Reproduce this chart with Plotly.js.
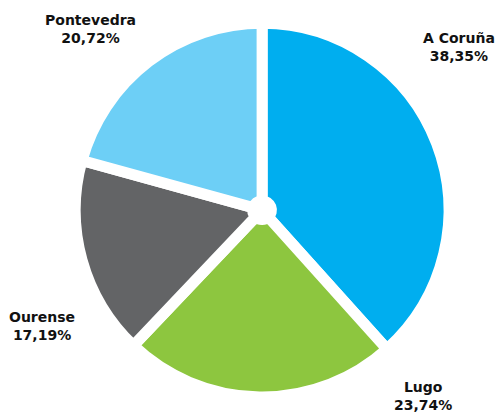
<!DOCTYPE html>
<html><head><meta charset="utf-8">
<script src="https://cdn.plot.ly/plotly-3.0.1.min.js"></script>
<style>html,body{margin:0;padding:0;background:#fff}#chart{width:495px;height:412px}</style>
</head><body><div id="chart"></div>
<script>
const provinces = ["A Coruña", "Lugo", "Ourense", "Pontevedra"];
const shares = [38.35, 23.74, 17.19, 20.72];
const colors = ["#00AEEF", "#8DC63F", "#636466", "#6DCFF6"];
const labelPos = [[459, 47], [423, 396], [42, 326], [90, 29]];

const fmt = v => v.toFixed(2).replace('.', ',') + '%';

const trace = {
  type: 'pie',
  labels: provinces,
  values: shares,
  sort: false,
  direction: 'clockwise',
  rotation: 0,
  hole: 0.05,
  textinfo: 'none',
  hoverinfo: 'label+percent',
  marker: {colors: colors, line: {color: '#ffffff', width: 11}},
  domain: {x: [0.152, 0.907], y: [0.036, 0.944]},
  showlegend: false
};

const annotations = provinces.map((p, i) => ({
  x: labelPos[i][0] / 495, y: 1 - labelPos[i][1] / 412,
  xref: 'paper', yref: 'paper', xanchor: 'center', yanchor: 'middle',
  showarrow: false, align: 'center',
  text: '<b>' + p + '</b><br><b>' + fmt(shares[i]) + '</b>',
  font: {family: 'DejaVu Sans', size: 14, color: '#111'}
}));

Plotly.newPlot('chart', [trace], {
  width: 495, height: 412,
  margin: {l: 0, r: 0, t: 0, b: 0},
  paper_bgcolor: '#fff',
  annotations: annotations
}, {displayModeBar: false, staticPlot: true});
</script></body></html>
